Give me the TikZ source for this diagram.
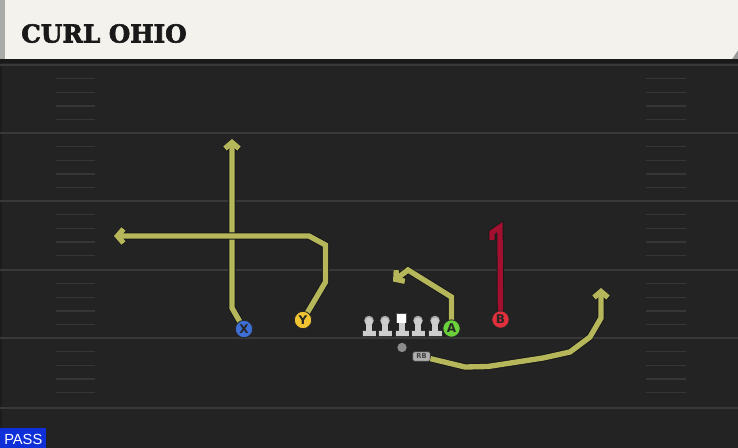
\documentclass[tikz,border=0pt]{standalone}
\usepackage{fontspec}
\setmainfont{DejaVu Sans}
\newfontfamily\titlefont[BoldFeatures={FakeBold=2.5}]{DejaVu Serif}
\newfontfamily\passfont{Liberation Sans}
\usetikzlibrary{arrows.meta}
\definecolor{fieldbg}{HTML}{232323}
\definecolor{headerbg}{HTML}{F4F2EC}
\definecolor{headerside}{HTML}{A9ABA8}
\definecolor{yardline}{HTML}{393939}
\definecolor{hashline}{HTML}{363636}
\definecolor{routecol}{HTML}{B6B75A}
\definecolor{blockcol}{HTML}{A30F2E}
\definecolor{xcol}{HTML}{3D6FD6}
\definecolor{ycol}{HTML}{F2C431}
\definecolor{acol}{HTML}{6BD13B}
\definecolor{bcol}{HTML}{E0303C}
\definecolor{passblue}{HTML}{0F2FD8}
\definecolor{linecol}{HTML}{CDCDCD}
\tikzset{
  route/.style={line width=4pt, draw=routecol, line join=miter,
    preaction={draw=black!90, line width=5.3pt}},
  routearrow/.style={route, -{Straight Barb[length=4.5pt,width=10.5pt]}},
  blockroute/.style={line width=4pt, draw=blockcol, line join=miter,
    preaction={draw=black!90, line width=5.3pt}},
  player/.style={circle, draw=black!85, line width=0.6pt, minimum size=13pt,
    inner sep=0pt, font=\fontsize{9}{9}\selectfont\bfseries, text=black!85},
  yard/.style={draw=yardline, line width=1.2pt},
  hash/.style={draw=hashline, line width=1.1pt},
  lineman/.pic={
    \fill[black!80] (-7,337) rectangle (7,330.5);
    \fill[linecol] (-6.5,336.5) rectangle (6.5,331);
    \fill[linecol] (-3,332) rectangle (3,322);
    \fill[gray!70] (0,320.5) circle (4.8);
    \fill[linecol] (0,321.5) circle (4);
  }
}
\begin{document}
\begin{tikzpicture}[x=0.75pt,y=-0.75pt]
\useasboundingbox (0,0) rectangle (738,448);
\fill[fieldbg] (0,0) rectangle (738,448);
\fill[black!20!fieldbg] (0,59) rectangle (2,448);
% header
\fill[black!40] (0,0) rectangle (738,60);
\fill[headerbg] (0,0) -- (738,0) -- (738,50) -- (732,59) -- (0,59) -- cycle;
\fill[headerside] (0,0) rectangle (5,59);
\fill[black!90] (0,59.5) rectangle (738,63);
\node[anchor=base west, inner sep=0pt, font=\titlefont\bfseries\fontsize{18.5}{20}\selectfont, text=black!90] (title) at (21,42.5) {CURL OHIO};
% yard lines
\foreach \yy in {65,133,201,270,338,408} {
  \draw[yard] (0,\yy) -- (738,\yy);
}
% hash marks
\foreach \yy in {65,133,201,270,338} {
  \foreach \k in {1,2,3,4} {
    \draw[hash] (56,\yy+13.65*\k) -- (95,\yy+13.65*\k);
    \draw[hash] (646,\yy+13.65*\k) -- (686,\yy+13.65*\k);
  }
}
% line
\foreach \lx in {369,385,418,435} {
  \pic at (\lx,0) {lineman};
}
\fill[black!80] (395,337) rectangle (409,330.5);
\fill[linecol] (395.5,336.5) rectangle (408.5,331);
\fill[linecol] (399,332) rectangle (405,322);
\fill[black!70] (396,313.5) rectangle (407,323.5);
\fill[white] (396.8,314.3) rectangle (406.2,322.7);
% QB and RB
\node[circle, fill=black!45, minimum size=7pt, inner sep=0pt] (QB) at (402,347.5) {};
\node[fill=linecol!85!black, draw=black!70, line width=0.4pt, rounded corners=1.5pt, minimum width=13pt, minimum height=7pt, inner sep=0pt, font=\fontsize{5}{5}\selectfont\bfseries, text=black!75] (RB) at (421.5,356.5) {RB};
% route waypoints
\coordinate (x1) at (232,308);
\coordinate (x2) at (232,139);
\coordinate (y1) at (325.5,282);
\coordinate (y2) at (325.5,245);
\coordinate (y3) at (309,236);
\coordinate (y4) at (114,236);
\coordinate (a1) at (451.5,297);
\coordinate (a2) at (408,270);
\coordinate (a3) at (393,281.5);
\coordinate (b1) at (500,227);
\coordinate (b2) at (492,232.5);
\coordinate (b3) at (492,240);
\coordinate (r1) at (465,367);
\coordinate (r2) at (488,366.5);
\coordinate (r3) at (543,358);
\coordinate (r4) at (570,352);
\coordinate (r5) at (590,337);
\coordinate (r6) at (601,318);
\coordinate (r7) at (601,288);
% players (positions)
\coordinate (Xc) at (244,329);
\coordinate (Yc) at (303,320);
\coordinate (Ac) at (451.5,328.5);
\coordinate (Bc) at (500.5,319.5);
% routes
\draw[routearrow] (Xc) -- (x1) -- (x2);
\draw[routearrow] (Yc) -- (y1) -- (y2) -- (y3) -- (y4);
\draw[routearrow] (Ac) -- (a1) -- (a2) -- (a3);
\draw[blockroute] (Bc) -- (b1) -- (b2) -- (b3);
\draw[routearrow] (RB) -- (r1) -- (r2) -- (r3) -- (r4) -- (r5) -- (r6) -- (r7);
% player nodes
\node[player, fill=xcol] (X) at (Xc) {X};
\node[player, fill=ycol] (Y) at (Yc) {Y};
\node[player, fill=acol] (A) at (Ac) {A};
\node[player, fill=bcol] (B) at (Bc) {B};
% pass label
\fill[passblue] (0,428) rectangle (46,448);
\node[anchor=base west, inner sep=0pt, text=white, font=\passfont\fontsize{11}{12}\selectfont] (pass) at (4,444.3) {PASS};
\end{tikzpicture}
\end{document}
